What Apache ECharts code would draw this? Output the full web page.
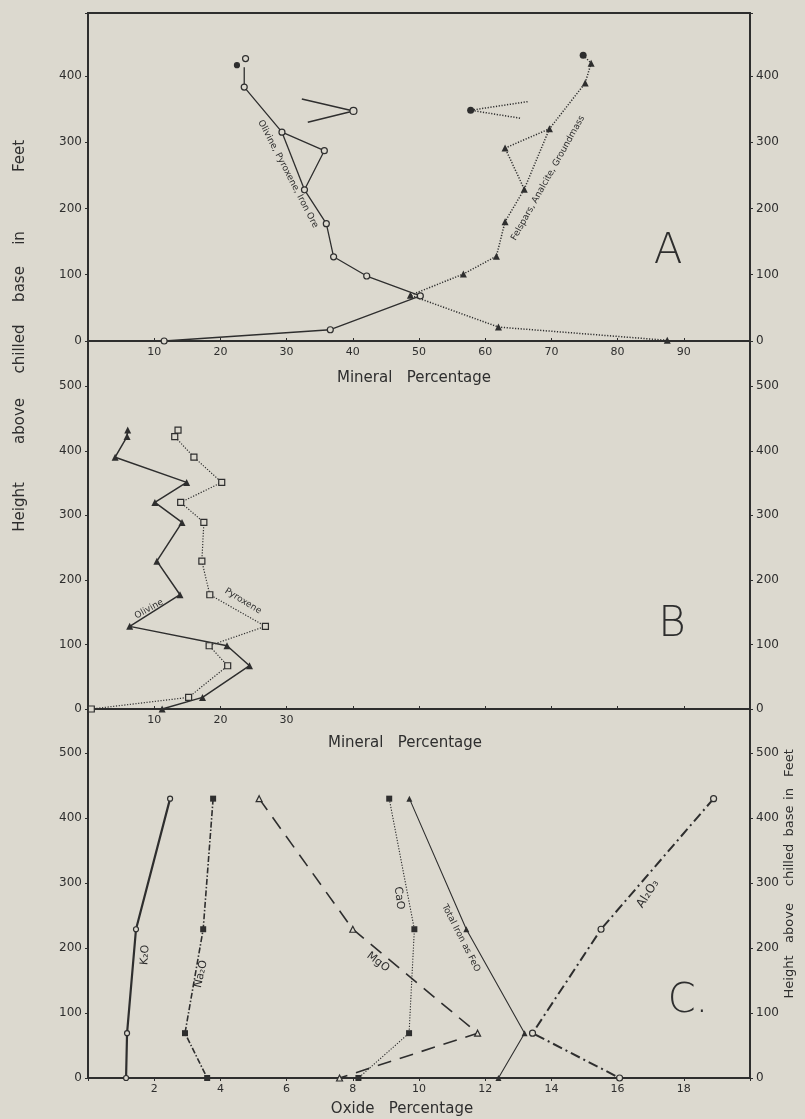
<!DOCTYPE html>
<html>
<head>
<meta charset="utf-8">
<script src="https://cdn.jsdelivr.net/npm/echarts@6/dist/echarts.min.js"></script>
<style>
  html, body { margin: 0; padding: 0; background: #dcd9cf; }
  #chart { width: 805px; height: 1119px; }
</style>
</head>
<body>
<div id="chart"></div>
<script>
// ---- data (x = percentage, y = height above chilled base in feet) ----
// Panel A
const olivPyxOreA = [[23.6, 413], [23.6, 383], [29.3, 315], [35.7, 287], [32.7, 228], [36.0, 177],
  [37.1, 127], [42.1, 98], [50.2, 68], [36.6, 17], [11.5, 0]];
const olivPyxOreExtraA = [[29.3, 315], [32.7, 228]];
const olivPyxOreTopA = [[23.8, 426], [22.5, 416]];
const olivPyxOreLooseA = [[32.3, 365], [40.1, 347], [33.2, 330]];
const felsparA = [[74.8, 431], [76.0, 419], [75.1, 389], [69.7, 320], [63.0, 291], [65.9, 229],
  [63.0, 180], [61.7, 128], [56.7, 101], [48.7, 69], [62.0, 21], [87.5, 1]];
const felsparExtraA = [[69.7, 320], [65.9, 229]];
const felsparLooseA = [[66.4, 361], [57.8, 348], [65.3, 336]];

// Panel B
const heightsB = [432, 422, 390, 351, 320, 289, 229, 177, 128, 98, 67, 18, 0];
const olivineB = [6.0, 5.9, 4.1, 14.9, 10.1, 14.2, 10.4, 13.9, 6.3, 21.0, 24.4, 17.3, 11.2];
const pyroxeneB = [13.6, 13.1, 16.0, 20.2, 14.0, 17.5, 17.2, 18.4, 26.8, 18.3, 21.1, 15.2, 0.5];

// Panel C
const heightsC = [430, 229, 69, 0];
const k2oC = [2.48, 1.45, 1.18, 1.15];
const na2oC = [3.78, 3.48, 2.93, 3.6];
const mgoC = [5.17, 8.0, 11.77, 7.6];
const caoC = [9.1, 9.86, 9.7, 8.17];
const feoC = [9.71, 11.43, 13.19, 12.4];
const al2o3C = [18.9, 15.5, 13.43, 16.06];

// ticks shown on each panel
const xTicksA = [10, 20, 30, 40, 50, 60, 70, 80, 90];
const xTicksB = [10, 20, 30];
const xTicksC = [2, 4, 6, 8, 10, 12, 14, 16, 18];
const yTicksA = [0, 100, 200, 300, 400];
const yTicksBC = [0, 100, 200, 300, 400, 500];

const BG = '#dcd9cf';
const INK = '#2e2e2e';
const FONT = '"DejaVu Sans", sans-serif';

const zip = (xs, hs) => xs.map((x, i) => [x, hs[i]]);

const chart = echarts.init(document.getElementById('chart'));

const grids = [
  { left: 88, top: 13, width: 662, height: 328 },
  { left: 88, top: 341, width: 662, height: 368 },
  { left: 88, top: 709, width: 662, height: 369 },
].map(g => ({ ...g, show: true, borderColor: INK, borderWidth: 2, backgroundColor: 'transparent' }));

function xAxis(gi, max, interval, ticks, inside) {
  return {
    gridIndex: gi, type: 'value', min: 0, max, interval,
    axisLine: { show: false },
    axisTick: { show: true, inside, length: 3, lineStyle: { color: INK } },
    splitLine: { show: false },
    axisLabel: {
      color: INK, fontFamily: FONT, fontSize: 11, margin: 6,
      formatter: v => (ticks.includes(v) ? String(v) : ''),
    },
  };
}

function yAxis(gi, pos, max, ticks) {
  return {
    gridIndex: gi, type: 'value', position: pos, min: 0, max, interval: 100,
    axisLine: { show: false },
    axisTick: { show: true, length: 3, lineStyle: { color: INK } },
    splitLine: { show: false },
    axisLabel: {
      color: INK, fontFamily: FONT, fontSize: 12, margin: 6,
      formatter: v => (ticks.includes(v) ? String(v) : ''),
    },
  };
}

function sym(kind, size) {
  // open markers are drawn filled with the paper colour
  const open = kind.startsWith('empty');
  const shape = open ? kind.replace('empty', '').toLowerCase() : kind;
  return {
    symbol: shape, symbolSize: size,
    itemStyle: { color: open ? BG : INK, borderColor: INK, borderWidth: open ? 1.2 : 0 },
  };
}

function line(gi, data, kind, size, width, type) {
  return {
    type: 'line', xAxisIndex: gi, yAxisIndex: gi * 2, data,
    ...sym(kind, size),
    showAllSymbol: true,
    lineStyle: { color: INK, width, type },
    z: 3, silent: true,
  };
}

const dotted = [1.2, 1.6];

const series = [
  // A
  line(0, olivPyxOreA.map((p, i) => (i === 0 ? { value: p, symbol: 'none' } : p)), 'emptyCircle', 6, 1.3, 'solid'),
  line(0, olivPyxOreExtraA, 'none', 0, 1.3, 'solid'),
  { ...line(0, olivPyxOreTopA, 'emptyCircle', 6, 0, 'solid'),
    data: olivPyxOreTopA.map((p, i) => (i === 1 ? { value: p, symbol: 'circle', symbolSize: 5, itemStyle: { color: INK } } : p)),
    lineStyle: { width: 0 } },
  line(0, olivPyxOreLooseA.map((p, i) => (i === 1 ? p : { value: p, symbol: 'none' })), 'emptyCircle', 7, 1.5, 'solid'),
  line(0, felsparA.map((p, i) => (i === 0 ? { value: p, symbol: 'circle', symbolSize: 7 } : p)), 'triangle', 7, 1.5, dotted),
  line(0, felsparExtraA, 'none', 0, 1.5, dotted),
  line(0, felsparLooseA.map((p, i) => (i === 1 ? p : { value: p, symbol: 'none' })), 'circle', 7, 1.5, dotted),
  // B
  line(1, zip(olivineB, heightsB), 'triangle', 7, 1.5, 'solid'),
  line(1, zip(pyroxeneB, heightsB), 'emptyRect', 6, 1.2, dotted),
  // C
  line(2, zip(k2oC, heightsC), 'emptyCircle', 5, 2.2, 'solid'),
  line(2, zip(na2oC, heightsC), 'rect', 6, 1.6, [6, 2, 1.5, 2]),
  line(2, zip(mgoC, heightsC), 'emptyTriangle', 6, 1.6, [14, 9]),
  line(2, zip(caoC, heightsC), 'rect', 6, 1.1, dotted),
  line(2, zip(feoC, heightsC), 'triangle', 6, 1.1, 'solid'),
  line(2, zip(al2o3C, heightsC), 'emptyCircle', 6, 2, [10, 4, 2, 4]),
];

function text(str, x, y, size, rotation, weight) {
  return {
    type: 'text', x, y, rotation: rotation || 0, z: 20, silent: true,
    style: {
      text: str, fill: INK, fontFamily: FONT, fontSize: size, fontWeight: weight || 'normal',
      align: 'center', verticalAlign: 'middle',
    },
  };
}

const R = Math.PI / 2;
// words of the two vertical axis titles, centre y of each word
const leftTitle = [['Height', 507], ['above', 421], ['chilled', 349], ['base', 284], ['in', 238], ['Feet', 156]];
const rightTitle = [['Height', 977], ['above', 923], ['chilled', 865], ['base', 821], ['in', 794], ['Feet', 763]];

const graphics = [
  text('Mineral   Percentage', 414, 378, 15),
  text('Mineral   Percentage', 405, 743, 15),
  text('Oxide   Percentage', 402, 1109, 15),
  ...leftTitle.map(([w, y]) => text(w, 20, y, 15, R)),
  ...rightTitle.map(([w, y]) => text(w, 790, y, 13, R)),
  text('A', 668, 252, 42, 0, 200),
  text('B', 672, 625, 42, 0, 200),
  text('C.', 688, 1002, 40, 0, 200),
  text('Olivine, Pyroxene, Iron Ore', 288, 174, 9, -1.09),
  text('Felspars, Analcite, Groundmass', 548, 178, 9, 1.06),
  text('Olivine', 149, 609, 9, 0.51),
  text('Pyroxene', 243, 601, 9, -0.55),
  text('K₂O', 145, 955, 11, 1.5),
  text('Na₂O', 201, 974, 11, 1.35),
  text('MgO', 378, 962, 11, -0.65),
  text('CaO', 399, 898, 11, -1.45),
  text('Total Iron as FeO', 461, 938, 9, -1.10),
  text('Al₂O₃', 648, 894, 12, 1.0),
];

chart.setOption({
  backgroundColor: BG,
  animation: false,
  grid: grids,
  xAxis: [
    xAxis(0, 100, 10, xTicksA, true),
    xAxis(1, 100, 10, xTicksB, true),
    xAxis(2, 20, 2, xTicksC, false),
  ],
  yAxis: [
    yAxis(0, 'left', 494.7, yTicksA), yAxis(0, 'right', 494.7, yTicksA),
    yAxis(1, 'left', 570, yTicksBC), yAxis(1, 'right', 570, yTicksBC),
    yAxis(2, 'left', 568, yTicksBC), yAxis(2, 'right', 568, yTicksBC),
  ],
  series,
  graphic: graphics,
});
</script>
</body>
</html>
